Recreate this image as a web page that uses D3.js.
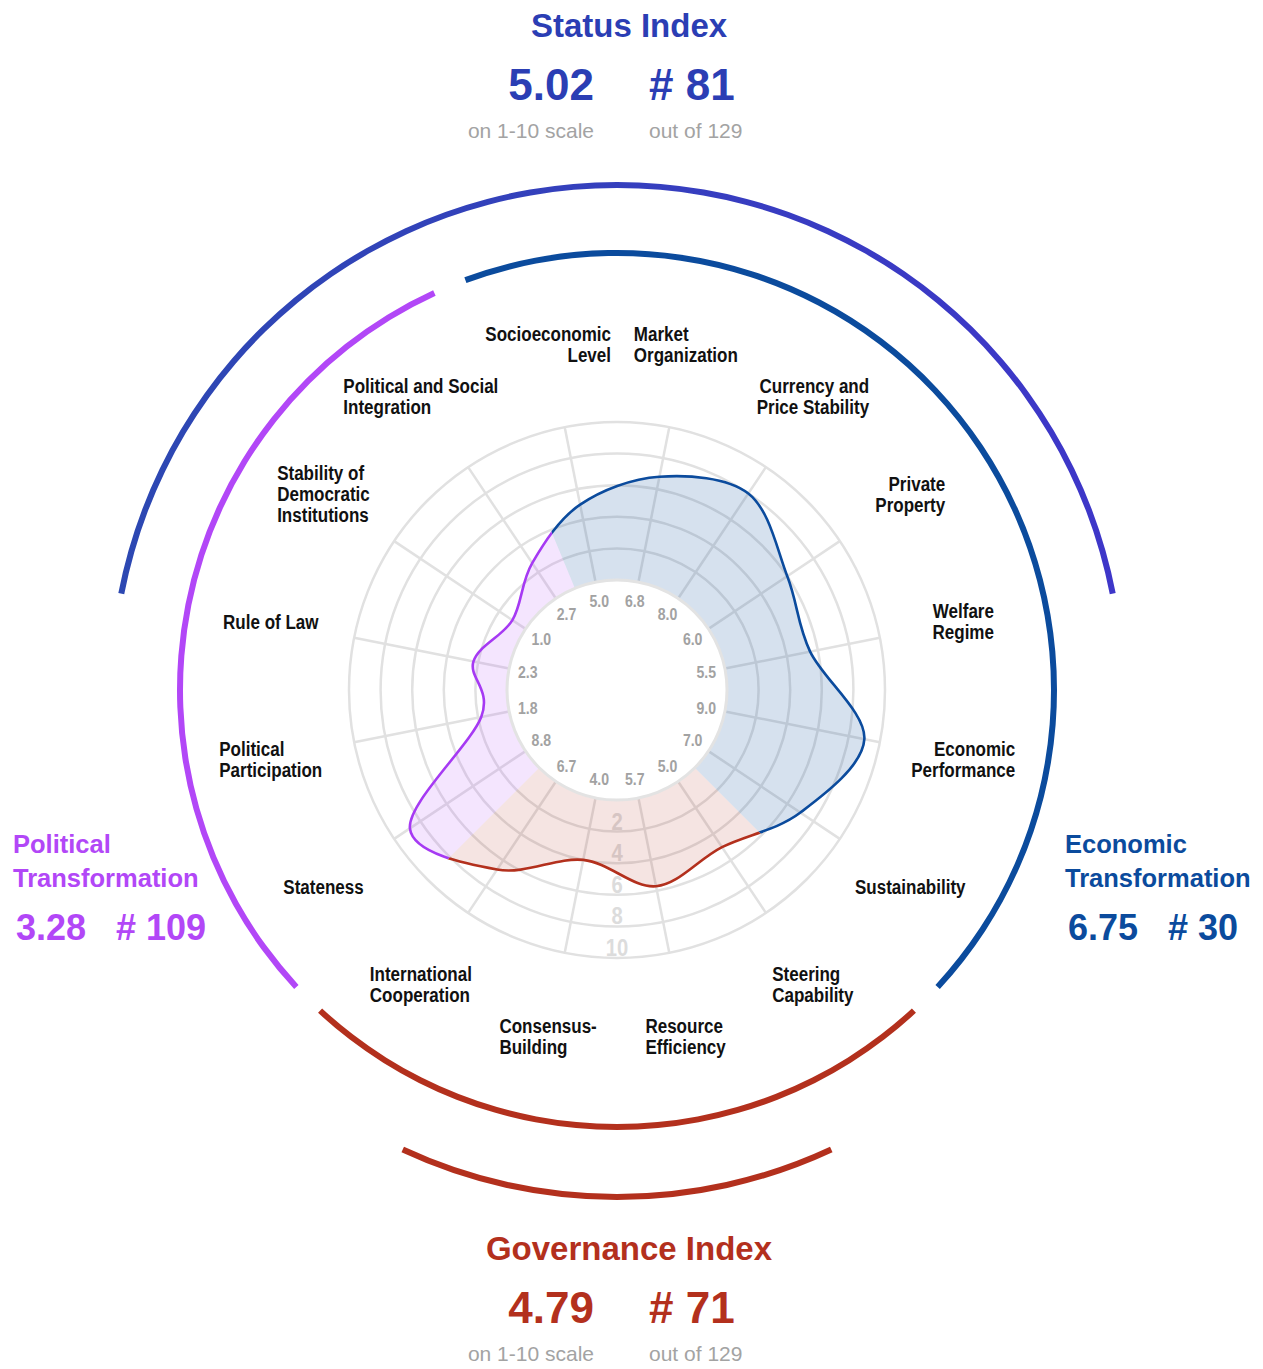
<!DOCTYPE html>
<html>
<head>
<meta charset="utf-8">
<script src="https://cdn.jsdelivr.net/npm/d3@7"></script>
<style>
  body { margin: 0; background: #fff; }
</style>
</head>
<body>
<div id="chart"></div>
<script>
// criteria, clockwise from the top
const criteria = [
    ["Socioeconomic", "Level"], ["Market", "Organization"], ["Currency and", "Price Stability"],
    ["Private", "Property"], ["Welfare", "Regime"], ["Economic", "Performance"], ["Sustainability"],
    ["Steering", "Capability"], ["Resource", "Efficiency"], ["Consensus-", "Building"],
    ["International", "Cooperation"],
    ["Stateness"], ["Political", "Participation"], ["Rule of Law"],
    ["Stability of", "Democratic", "Institutions"], ["Political and Social", "Integration"]
];
const scores = [5.0, 6.8, 8.0, 6.0, 5.5, 9.0, 7.0, 5.0, 5.7, 4.0, 6.7, 8.8, 1.8, 2.3, 1.0, 2.7];
const labelAlign = ["end", "start", "end", "end", "end", "end", "middle",
    "start", "start", "start", "start", "middle", "start", "middle", "start", "start"];

const dimensions = ["economic", "governance", "political"];
const dimensionSize = [7, 4, 5];
const ringTicks = [2, 4, 6, 8, 10];

const indexNames = ["Status Index", "Governance Index"];
const indexScores = [5.02, 4.79];
const indexRanks = [81, 71];
const transformationNames = [["Political", "Transformation"], ["Economic", "Transformation"]];
const transformationScores = [3.28, 6.75];
const transformationRanks = [109, 30];
const countryCount = 129;

const colors = { economic: "#0b4b9d", governance: "#b3301d", political: "#b247f7" };
const curveColors = { economic: "#0b4b9d", governance: "#b3301d", political: "#a63af3" };
const fillOpacity = { economic: 0.17, governance: 0.13, political: 0.14 };

const width = 1263;
const height = 1369;
const cx = 617;
const cy = 690;

function hasFont(name) {
    const ctx = document.createElement("canvas").getContext("2d");
    ctx.font = "bold 20px monospace";
    const a = ctx.measureText("Sustainability 123").width;
    ctx.font = `bold 20px '${name}', monospace`;
    const b = ctx.measureText("Sustainability 123").width;
    return a !== b;
}
// the original uses a condensed face; squeeze the regular one if no narrow font is there
const narrow = hasFont("Liberation Sans Narrow");
const labelFont = narrow ? "'Liberation Sans Narrow', sans-serif" : "'Liberation Sans', Arial, sans-serif";
const squeeze = narrow ? 1 : 0.83;
const titleFont = "'Liberation Sans', Arial, sans-serif";

const svg = d3.select("#chart").append("svg")
    .attr("width", width)
    .attr("height", height)
    .style("display", "block");

const defs = svg.append("defs");
const grad = defs.append("linearGradient")
    .attr("id", "status-grad")
    .attr("gradientUnits", "userSpaceOnUse")
    .attr("x1", -505).attr("x2", 505)
    .attr("y1", 0).attr("y2", 0);
grad.append("stop").attr("offset", 0).attr("stop-color", "#2c48b2");
grad.append("stop").attr("offset", 1).attr("stop-color", "#3e36c9");

const step = Math.PI * 2 / criteria.length;
const angle = i => -step + step * (i + 0.5); // axis angle, clockwise from 12 o'clock
const r = d3.scaleLinear().domain([0, 10]).range([110, 268]);

// sector start/end index per dimension
const sectors = [];
let acc = -1;
dimensions.forEach((d, k) => {
    sectors.push({ key: d, start: acc, end: acc + dimensionSize[k] });
    acc += dimensionSize[k];
});
const sectorAngle = idx => -step + step * (idx + 1);

const g = svg.append("g").attr("transform", `translate(${cx},${cy})`);

// grid
g.append("g").selectAll("circle")
    .data(ringTicks)
    .join("circle")
    .attr("r", d => r(d))
    .attr("fill", "none")
    .attr("stroke", "#e1e1e1")
    .attr("stroke-width", 2.5);

g.append("g").selectAll("line")
    .data(criteria)
    .join("line")
    .attr("x1", (d, i) => r(0) * Math.sin(angle(i)))
    .attr("y1", (d, i) => -r(0) * Math.cos(angle(i)))
    .attr("x2", (d, i) => r(10) * Math.sin(angle(i)))
    .attr("y2", (d, i) => -r(10) * Math.cos(angle(i)))
    .attr("stroke", "#e1e1e1")
    .attr("stroke-width", 2.5);

g.append("g").selectAll("text")
    .data(ringTicks)
    .join("text")
    .attr("transform", d => `translate(0,${r(d) - 10}) scale(${narrow ? 1 : 0.88},1)`)
    .attr("text-anchor", "middle")
    .attr("dominant-baseline", "central")
    .attr("font-family", labelFont)
    .attr("font-weight", "bold")
    .attr("font-size", 23)
    .attr("fill", "#dcdcdc")
    .text(d => d);

// clip wedges (in the centred coordinate system)
const wedge = d3.arc().innerRadius(0).outerRadius(330);
sectors.forEach(s => {
    defs.append("clipPath")
        .attr("id", "clip-" + s.key)
        .append("path")
        .attr("d", wedge({ startAngle: sectorAngle(s.start), endAngle: sectorAngle(s.end) }));
});

const radial = d3.lineRadial()
    .angle((d, i) => angle(i))
    .radius(d => r(d))
    .curve(d3.curveCardinalClosed.tension(0));
const shape = radial(scores);

const fills = g.append("g");
sectors.forEach(s => {
    fills.append("g")
        .attr("clip-path", `url(#clip-${s.key})`)
        .append("path")
        .attr("d", shape)
        .attr("fill", colors[s.key])
        .attr("fill-opacity", fillOpacity[s.key]);
});

// inner hole
g.append("circle")
    .attr("r", r(0))
    .attr("fill", "#fff")
    .attr("stroke", "#e3e3e3")
    .attr("stroke-width", 3);

g.append("g").selectAll("text")
    .data(scores)
    .join("text")
    .attr("transform", (d, i) => `translate(${91 * Math.sin(angle(i))},${-91 * Math.cos(angle(i))}) scale(${narrow ? 1 : 0.88},1)`)
    .attr("text-anchor", "middle")
    .attr("dominant-baseline", "central")
    .attr("font-family", labelFont)
    .attr("font-weight", "bold")
    .attr("font-size", 16)
    .attr("fill", "#a2a2a2")
    .text(d => d.toFixed(1));

// score curve, coloured per dimension
const lines = g.append("g");
sectors.forEach(s => {
    lines.append("g")
        .attr("clip-path", `url(#clip-${s.key})`)
        .append("path")
        .attr("d", shape)
        .attr("fill", "none")
        .attr("stroke", curveColors[s.key])
        .attr("stroke-width", 2.6);
});

// dimension arcs
const pad = 2.2 * Math.PI / 180;
const ring = d3.arc();
sectors.forEach(s => {
    g.append("path")
        .attr("d", ring({
            innerRadius: 434, outerRadius: 440,
            startAngle: sectorAngle(s.start) + pad,
            endAngle: sectorAngle(s.end) - pad
        }))
        .attr("fill", colors[s.key]);
});

const deg = Math.PI / 180;
g.append("path")
    .attr("d", ring({ innerRadius: 502, outerRadius: 508, startAngle: -79 * deg, endAngle: 79 * deg }))
    .attr("fill", "url(#status-grad)");
g.append("path")
    .attr("d", ring({ innerRadius: 504, outerRadius: 510, startAngle: 155 * deg, endAngle: 205 * deg }))
    .attr("fill", colors.governance);

// criterion labels
const labels = g.append("g");
criteria.forEach((rows, i) => {
    const a = angle(i);
    const t = labels.append("text")
        .attr("text-anchor", labelAlign[i])
        .attr("font-family", labelFont)
        .attr("font-weight", "bold")
        .attr("font-size", 20.5)
        .attr("fill", "#111");
    rows.forEach((row, j) => {
        t.append("tspan").attr("x", 0).attr("dy", j === 0 ? 0 : 21).text(row);
    });
    const bb = t.node().getBBox();
    const px = 353 * Math.sin(a);
    const py = -353 * Math.cos(a);
    const mx = bb.x + bb.width / 2;
    const my = bb.y + bb.height / 2;
    t.attr("transform", `translate(${px - mx * squeeze},${py - my}) scale(${squeeze},1)`);
});

// index headers
const indexColors = ["#2b3eb4", colors.governance];
const indexTop = [37, 1260];
indexNames.forEach((name, k) => {
    const y = indexTop[k];
    svg.append("text")
        .attr("x", cx + 12).attr("y", y)
        .attr("text-anchor", "middle")
        .attr("font-family", titleFont).attr("font-weight", "bold")
        .attr("font-size", 33)
        .attr("fill", indexColors[k])
        .text(name);
    svg.append("text")
        .attr("x", cx - 23).attr("y", y + 63)
        .attr("text-anchor", "end")
        .attr("font-family", titleFont).attr("font-weight", "bold")
        .attr("font-size", 44)
        .attr("fill", indexColors[k])
        .text(indexScores[k].toFixed(2));
    svg.append("text")
        .attr("x", cx + 32).attr("y", y + 63)
        .attr("font-family", titleFont).attr("font-weight", "bold")
        .attr("font-size", 44)
        .attr("fill", indexColors[k])
        .text("# " + indexRanks[k]);
    svg.append("text")
        .attr("x", cx - 23).attr("y", y + 101)
        .attr("text-anchor", "end")
        .attr("font-family", titleFont)
        .attr("font-size", 21)
        .attr("fill", "#a3a3a3")
        .text("on 1-10 scale");
    svg.append("text")
        .attr("x", cx + 32).attr("y", y + 101)
        .attr("font-family", titleFont)
        .attr("font-size", 21)
        .attr("fill", "#a3a3a3")
        .text("out of " + countryCount);
});

// transformation headers
const transColors = [colors.political, colors.economic];
const transX = [13, 1065];
transformationNames.forEach((name, k) => {
    const x = transX[k];
    name.forEach((line, j) => {
        svg.append("text")
            .attr("x", x).attr("y", 853 + j * 34)
            .attr("font-family", titleFont).attr("font-weight", "bold")
            .attr("font-size", 25.5)
            .attr("fill", transColors[k])
            .text(line);
    });
    svg.append("text")
        .attr("x", x + 3).attr("y", 940)
        .attr("font-family", titleFont).attr("font-weight", "bold")
        .attr("font-size", 36)
        .attr("fill", transColors[k])
        .text(transformationScores[k].toFixed(2));
    svg.append("text")
        .attr("x", x + 103).attr("y", 940)
        .attr("font-family", titleFont).attr("font-weight", "bold")
        .attr("font-size", 36)
        .attr("fill", transColors[k])
        .text("# " + transformationRanks[k]);
});
</script>
</body>
</html>
